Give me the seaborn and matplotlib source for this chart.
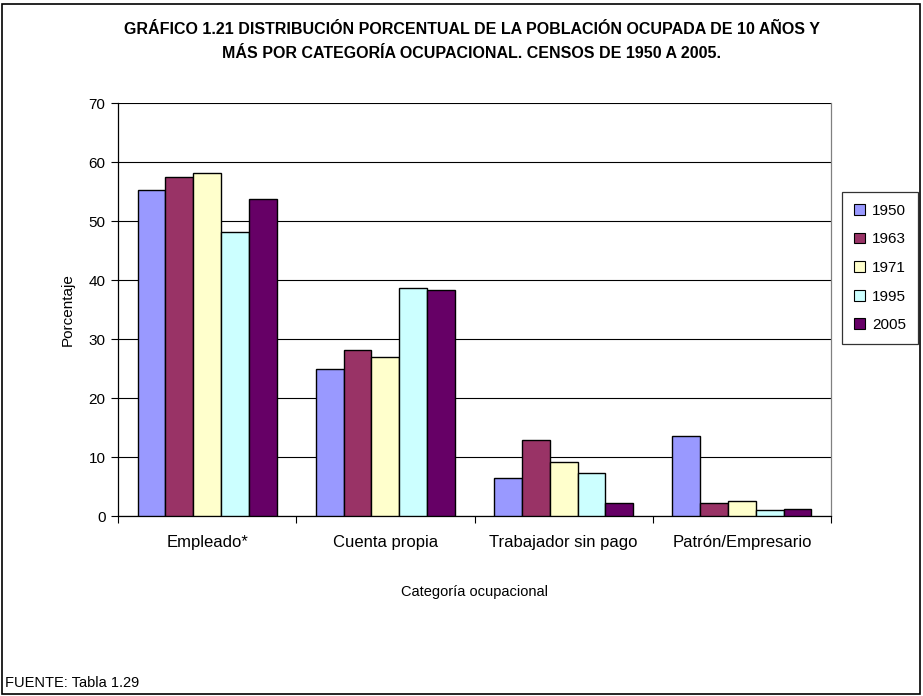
import numpy as np
import pandas as pd
import matplotlib.pyplot as plt
import matplotlib.patches as mpatches
import seaborn as sns

# --- data ---
categories = ["Empleado*", "Cuenta propia", "Trabajador sin pago", "Patrón/Empresario"]
years = ["1950", "1963", "1971", "1995", "2005"]
v1950 = [55.2, 25.0, 6.5, 13.6]
v1963 = [57.4, 28.2, 12.9, 2.2]
v1971 = [58.2, 27.0, 9.1, 2.5]
v1995 = [48.1, 38.6, 7.3, 1.0]
v2005 = [53.7, 38.3, 2.2, 1.25]
colors = ["#9999FF", "#993366", "#FFFFCC", "#CCFFFF", "#660066"]

rows = []
for yr, vals in zip(years, [v1950, v1963, v1971, v1995, v2005]):
    for cat, v in zip(categories, vals):
        rows.append({"Categoría": cat, "Año": yr, "Porcentaje": v})
df = pd.DataFrame(rows)

sns.set_style("white")
plt.rcParams['font.family'] = ['Liberation Sans', 'DejaVu Sans']
plt.rcParams['text.color'] = 'black'
plt.rcParams['axes.labelcolor'] = 'black'
plt.rcParams['xtick.color'] = 'black'
plt.rcParams['ytick.color'] = 'black'

fig = plt.figure(figsize=(9.23, 6.96), dpi=100)
ax = fig.add_axes([118 / 923, 1 - 516 / 696, (831 - 118) / 923, (516 - 103) / 696])

sns.barplot(data=df, x="Categoría", y="Porcentaje", hue="Año", order=categories,
            hue_order=years, palette=colors, width=0.78, edgecolor="black",
            linewidth=1.0, saturation=1, ax=ax, legend=False, zorder=3)

ax.set_ylim(0, 70)
ax.set_xlim(-0.5, 3.5)
ax.set_yticks(np.arange(0, 71, 10))
ax.yaxis.grid(True, color="black", linewidth=0.8, zorder=0)
ax.set_axisbelow(True)
ax.tick_params(axis="y", direction="out", length=5, width=0.8, color="black",
               labelsize=11, pad=4, left=True, labelcolor="black")
ax.set_xticks(range(len(categories)))
ax.set_xticklabels(categories, fontsize=12)
ax.tick_params(axis="x", which="major", length=0, pad=14, labelcolor="black")
ax.set_xticks(np.arange(-0.5, 3.6, 1), minor=True)
ax.tick_params(axis="x", which="minor", direction="out", length=5, width=0.8,
               color="black", bottom=True)

for side in ["left", "bottom"]:
    ax.spines[side].set_color("black")
    ax.spines[side].set_linewidth(0.9)
ax.spines["top"].set_visible(False)
ax.spines["right"].set_color("#808080")
ax.spines["right"].set_linewidth(0.9)

ax.set_ylabel("Porcentaje", fontsize=11, labelpad=10, color="black")
ax.set_xlabel("")

fig.text(474 / 923, 1 - 592 / 696, "Categoría ocupacional", ha="center",
         va="center", fontsize=10.5, color="black")
fig.text(472 / 923, 1 - 30 / 696,
         "GRÁFICO 1.21 DISTRIBUCIÓN PORCENTUAL DE LA POBLACIÓN OCUPADA DE 10 AÑOS Y",
         ha="center", va="center", fontsize=11.5, fontweight="bold", color="black")
fig.text(472 / 923, 1 - 53 / 696,
         "MÁS POR CATEGORÍA OCUPACIONAL. CENSOS DE 1950 A 2005.",
         ha="center", va="center", fontsize=11.5, fontweight="bold", color="black")
fig.text(5 / 923, 1 - 683 / 696, "FUENTE: Tabla 1.29", ha="left", va="center",
         fontsize=10.5, color="black")

# legend
handles = [mpatches.Patch(facecolor=c, edgecolor="black", linewidth=0.8, label=y)
           for c, y in zip(colors, years)]
leg = fig.legend(handles=handles, loc="center", bbox_to_anchor=(880 / 923, 1 - 268 / 696),
                 frameon=True, fontsize=11, handlelength=0.7, handleheight=0.7,
                 handletextpad=0.5, labelspacing=0.95, borderpad=0.8,
                 fancybox=False, borderaxespad=0, labelcolor="black")
leg.get_frame().set_edgecolor("black")
leg.get_frame().set_linewidth(0.9)

# chart area border
fig.patches.append(mpatches.Rectangle((2 / 923, 2 / 696), 918 / 923, 690 / 696,
                                      transform=fig.transFigure, fill=False,
                                      edgecolor="black", linewidth=1.2))

fig.savefig("out.png", dpi=100)
